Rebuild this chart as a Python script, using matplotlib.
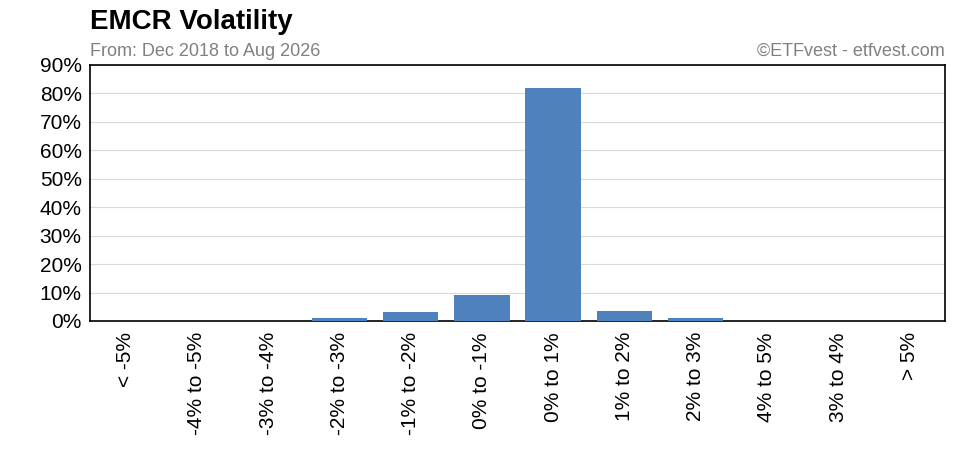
import matplotlib
matplotlib.use("Agg")
import matplotlib.pyplot as plt
from matplotlib.ticker import FuncFormatter

categories = ["< -5%", "-4% to -5%", "-3% to -4%", "-2% to -3%", "-1% to -2%", "0% to -1%",
              "0% to 1%", "1% to 2%", "2% to 3%", "4% to 5%", "3% to 4%", "> 5%"]
values = [0, 0, 0, 1.0, 3.2, 9.1, 82.0, 3.5, 1.0, 0, 0, 0]

plt.rcParams['font.family'] = ['Liberation Sans', 'DejaVu Sans']
fig = plt.figure(figsize=(9.65, 4.71), dpi=100)
ax = fig.add_axes([90/965, 1-321/471, 855/965, 256/471])
ax.bar(range(len(values)), values, width=0.78, color="#4f81bd", zorder=3)
ax.set_xlim(-0.5, len(values)-0.5)
ax.set_ylim(0, 90)
ax.set_yticks(range(0, 91, 10))
ax.yaxis.set_major_formatter(FuncFormatter(lambda v, p: f"{int(v)}%"))
ax.grid(axis='y', color="#d9d9d9", linewidth=0.8, zorder=0)
ax.set_xticks(range(len(values)))
ax.set_xticklabels(categories, rotation=90, fontsize=15)
ax.tick_params(axis='y', labelsize=15, length=0, pad=6)
ax.tick_params(axis='x', length=0, pad=8)
for s in ax.spines.values():
    s.set_color("black"); s.set_linewidth(1.2)
fig.text(90/965, 1-22/471, "EMCR Volatility", fontsize=20, fontweight='bold', va='center')
fig.text(90/965, 1-51/471, "From: Dec 2018 to Aug 2026", fontsize=13, color="#808080", va='center')
fig.text(945/965, 1-51/471, "©ETFvest - etfvest.com", fontsize=13, color="#808080", va='center', ha='right')
fig.savefig("out.png", dpi=100)
